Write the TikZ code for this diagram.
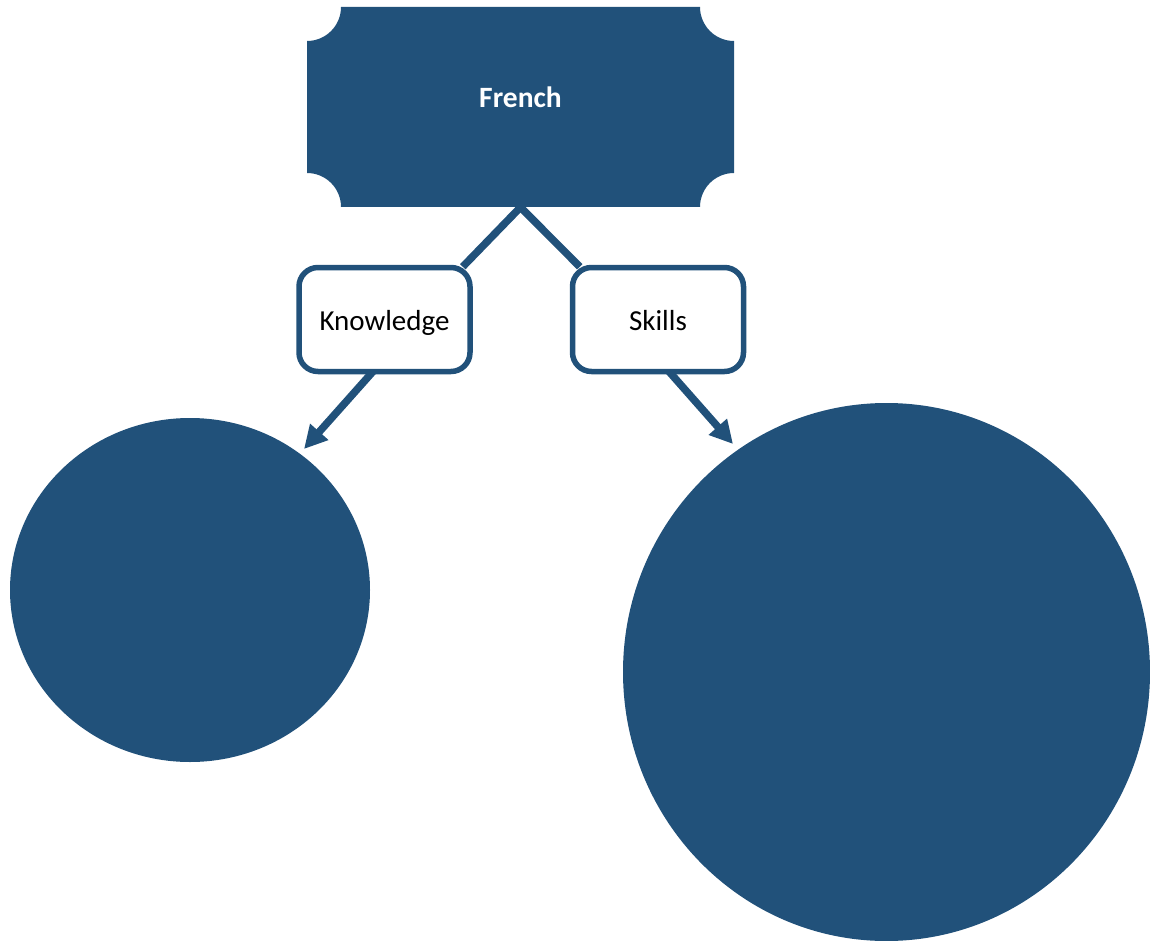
\documentclass[tikz,border=0pt]{standalone}
\usepackage{fontspec}
\setmainfont{Carlito}
\usetikzlibrary{arrows.meta,shapes.geometric,calc,backgrounds}
\definecolor{navy}{RGB}{33,81,122}
\tikzset{
  conn/.style={draw=navy,line width=7.5pt},
  arr/.style={conn,-{Triangle[length=23pt,width=23pt]}},
  subbox/.style={draw=navy,line width=5.5pt,fill=white,rounded corners=19pt,
    minimum width=171pt,minimum height=104pt,inner sep=0pt,
    text height=24pt,text depth=2pt,font=\fontsize{29}{32}\selectfont},
  blob/.style={ellipse,fill=navy,inner sep=0pt},
}
\begin{document}
\begin{tikzpicture}[x=1pt,y=-1pt]
\useasboundingbox (0,0) rectangle (1150,941);
% top banner shape with concave corners
\fill[navy] (341,7) -- (700,7) arc[start angle=180,end angle=270,radius=34pt]
  -- (734,173) arc[start angle=90,end angle=180,radius=34pt]
  -- (341,207) arc[start angle=0,end angle=90,radius=34pt]
  -- (307,41) arc[start angle=-90,end angle=0,radius=34pt] -- cycle;
\node[minimum width=427pt,minimum height=200pt,inner sep=0pt,text=white,
  font=\fontsize{29.5}{32}\selectfont\bfseries] (french) at (520.5,107) {\raisebox{19pt}{French}};
\node[subbox] (knowledge) at (384.5,319.5) {Knowledge};
\node[subbox] (skills) at (658,319.5) {Skills};
\node[blob,minimum width=360pt,minimum height=344pt] (left) at (190,590) {};
\node[blob,minimum width=527pt,minimum height=538pt] (right) at (886.5,672) {};
\coordinate (ktip) at (304,449);
\coordinate (stip) at (733,444);
\begin{scope}[on background layer]
\draw[conn] (french.south) -- ($(knowledge.north east)+(-10,2)$);
\draw[conn] (french.south) -- ($(skills.north west)+(10,2)$);
\draw[arr] ($(knowledge.south)+(-9.5,-5)$) -- (ktip);
\draw[arr] ($(skills.south)+(9,-5)$) -- (stip);
\end{scope}
\end{tikzpicture}
\end{document}
